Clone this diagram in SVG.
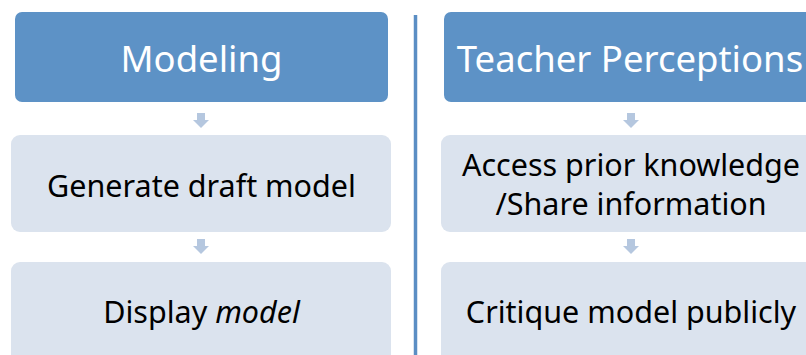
<svg xmlns="http://www.w3.org/2000/svg" width="806" height="355" viewBox="0 0 806 355">
<style>
.hdr{fill:#5d92c6;}
.body{fill:#dbe3ee;}
.ht{font-family:"Noto Sans","Open Sans",sans-serif;font-size:36.5px;fill:#ffffff;text-anchor:middle;}
.bt{font-family:"Noto Sans","Open Sans",sans-serif;font-size:30.5px;fill:#000000;text-anchor:middle;}
.arr{fill:#b5c7df;}
</style>
<defs>
<path id="dn" d="M-4,0 H4 V7 H8 L0,15 L-8,7 H-4 Z"/>
</defs>
<rect width="806" height="355" fill="#ffffff"/>
<g id="connectors">
<use href="#dn" class="arr" x="201" y="113"/>
<use href="#dn" class="arr" x="201" y="239"/>
<use href="#dn" class="arr" x="631" y="113"/>
<use href="#dn" class="arr" x="631" y="239"/>
</g>
<g id="divider">
<line x1="415.5" y1="15" x2="415.5" y2="355" stroke="#5b8ec4" stroke-width="3.5"/>
</g>
<g id="modeling">
<rect class="hdr" x="15" y="12" width="373" height="90" rx="7"/>
<text class="ht" x="201.5" y="72">Modeling</text>
</g>
<g id="generate">
<rect class="body" x="11" y="135" width="380" height="97" rx="9"/>
<text class="bt" x="201.5" y="197">Generate draft model</text>
</g>
<g id="display">
<rect class="body" x="11" y="262" width="380" height="110" rx="9"/>
<text class="bt" x="201.5" y="323">Display <tspan font-style="italic">model</tspan></text>
</g>
<g id="teacher">
<rect class="hdr" x="444" y="12" width="373" height="90" rx="7"/>
<text class="ht" x="630" y="72">Teacher Perceptions</text>
</g>
<g id="access">
<rect class="body" x="441" y="135" width="380" height="97" rx="9"/>
<text class="bt" x="631" y="176">Access prior knowledge</text>
<text class="bt" x="631" y="215">/Share information</text>
</g>
<g id="critique">
<rect class="body" x="441" y="262" width="380" height="110" rx="9"/>
<text class="bt" x="631" y="323">Critique model publicly</text>
</g>
</svg>
